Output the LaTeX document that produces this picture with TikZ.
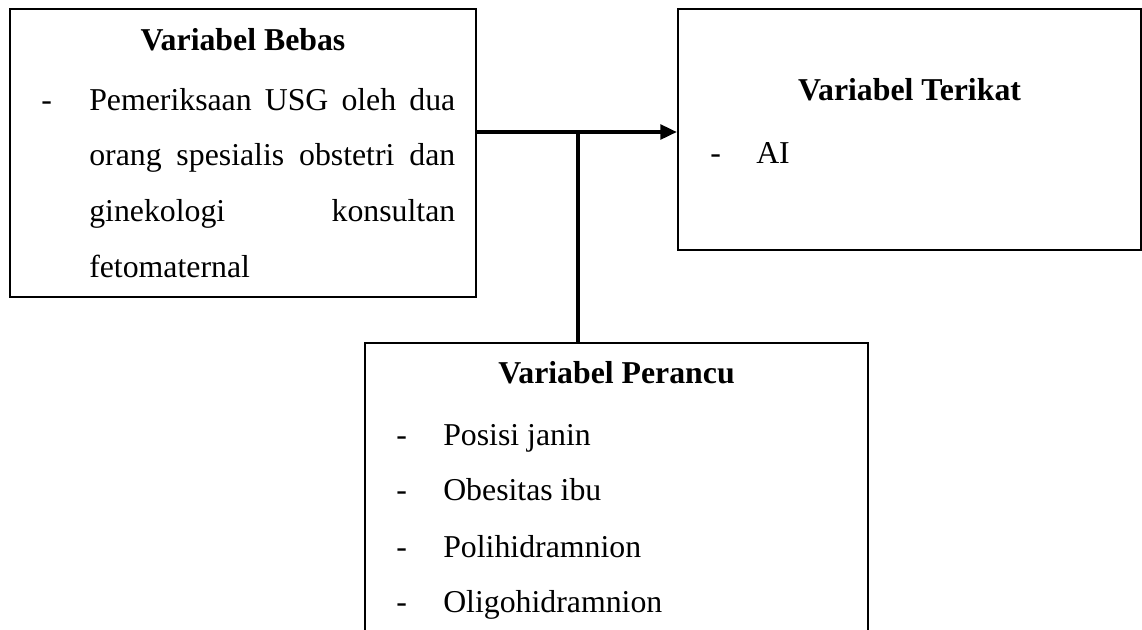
\documentclass[tikz,border=0pt]{standalone}
\usepackage{fontspec}
\setmainfont{Liberation Serif}
\usetikzlibrary{arrows.meta}
\begin{document}
\begin{tikzpicture}[x=0.75pt,y=-0.75pt,
  box/.style={draw=black,line width=1.6pt,inner sep=0pt,fill=none},
  conn/.style={draw=black,line width=2.8pt},
  txt/.style={inner sep=0pt,anchor=base west,font=\fontsize{23.85}{28}\selectfont},
  ttl/.style={inner sep=0pt,anchor=base,font=\fontsize{23.85}{28}\selectfont\bfseries}]
\clip (0,0) rectangle (1142,629);
\fill[white] (0,0) rectangle (1142,629);
% boxes
\node[box,minimum width=349.5pt,minimum height=216pt] (L) at (243,153) {};
\node[box,minimum width=347.25pt,minimum height=180.75pt] (R) at (909.5,129.5) {};
\node[box,minimum width=377.25pt,minimum height=222.75pt] (B) at (616.5,491.5) {};
% left texts
\node[ttl] (lt) at (243,50) {Variabel Bebas};
\node[txt] (ld) at (41,110) {-};
\node[txt] (l1) at (89,110) {\makebox[274.5pt][s]{Pemeriksaan USG oleh dua}};
\node[txt] (l2) at (89,165.5) {\makebox[274.5pt][s]{orang spesialis obstetri dan}};
\node[txt] (l3) at (89,221.5) {\makebox[274.5pt][s]{ginekologi konsultan}};
\node[txt] (l4) at (89,277) {fetomaternal};
% right texts
\node[ttl] (rt) at (909.5,100) {Variabel Terikat};
\node[txt] (rd) at (710,163) {-};
\node[txt] (r1) at (756,163) {AI};
% bottom texts
\node[ttl] (bt) at (616.5,383) {Variabel Perancu};
\node[txt] (b1d) at (396,445) {-};
\node[txt] (b1) at (443,445) {Posisi janin};
\node[txt] (b2d) at (396,500) {-};
\node[txt] (b2) at (443,500) {Obesitas ibu};
\node[txt] (b3d) at (396,557) {-};
\node[txt] (b3) at (443,557) {Polihidramnion};
\node[txt] (b4d) at (396,612) {-};
\node[txt] (b4) at (443,612) {Oligohidramnion};
% connectors
\coordinate (J) at (578,132);
\draw[conn,-{Triangle[length=12.5pt,width=11pt]}] (L.east |- J) -- (R.west |- J);
\draw[conn] (J) -- (B.north -| J);
\end{tikzpicture}
\end{document}
